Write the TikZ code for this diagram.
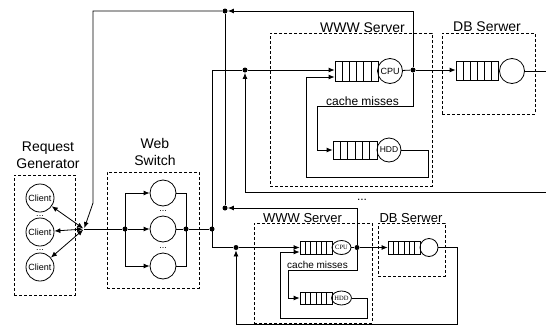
\documentclass[tikz,border=0pt]{standalone}
\usepackage{fontspec}
\setmainfont{Liberation Sans}
\newfontfamily\tms{Liberation Serif}
\usetikzlibrary{arrows.meta,calc,shapes.geometric}
\begin{document}
\begin{tikzpicture}[x=1pt,y=-1pt,
  line width=0.8pt,
  >={Latex[length=6pt,width=5pt]},
  dot/.style={circle,fill,inner sep=0,minimum size=5pt},
  grp/.style={draw,dash pattern=on 3pt off 2pt,line width=0.6pt,inner sep=0},
  lbl/.style={font=\fontsize{14}{16}\selectfont,inner sep=0,anchor=base},
  slbl/.style={font=\fontsize{12}{14}\selectfont,inner sep=0,anchor=base},
  srv/.style={draw,circle,inner sep=0},
  tsrv/.style={draw,ellipse,inner sep=0,minimum width=19pt,minimum height=14pt,font=\tms\fontsize{6.5}{7}\selectfont},
  queue/.style={draw,rectangle,inner sep=0,path picture={
    \foreach \k in {1,...,5}{\draw[line width=0.6pt]
      ($(path picture bounding box.south west)!\k/6!(path picture bounding box.south east)$) --
      ($(path picture bounding box.north west)!\k/6!(path picture bounding box.north east)$);}}}]
\useasboundingbox (0,0) rectangle (546,327);

% group boxes
\node[grp,minimum width=61pt,minimum height=120pt] (RG) at (44.5,235) {};
\node[grp,minimum width=92pt,minimum height=116pt] (WS) at (153,230) {};
\node[grp,minimum width=162pt,minimum height=153pt] (W1) at (351,109.5) {};
\node[grp,minimum width=93pt,minimum height=81pt] (DB1) at (488.5,73.5) {};
\node[grp,minimum width=118pt,minimum height=100pt] (W2) at (313,273) {};
\node[grp,minimum width=67pt,minimum height=53pt] (DB2) at (411.5,249.5) {};

% labels
\node[lbl] (lrg1) at (48,151) {Request};
\node[lbl] (lrg2) at (48,168) {Generator};
\node[lbl] (lws1) at (155,148) {Web};
\node[lbl] (lws2) at (155,165) {Switch};
\node[lbl] (lw1) at (362.5,32) {WWW Server};
\node[lbl] (ldb1) at (487,31) {DB Serwer};
\node[slbl] (lcm1) at (362.5,105) {cache misses};
\node[slbl] (ldots) at (362,200) {...};
\node[lbl,font=\fontsize{13}{15}\selectfont] (lw2) at (302.5,222) {WWW Server};
\node[lbl,font=\fontsize{13}{15}\selectfont] (ldb2) at (411,222) {DB Serwer};
\node[slbl,font=\fontsize{10}{12}\selectfont] (lcm2) at (317.5,268) {cache misses};

% clients
\tikzset{client/.style={srv,minimum size=28pt,font=\fontsize{9}{10}\selectfont}}
\node[client] (c1) at (40,198) {Client};
\node[client] (c2) at (40,232) {Client};
\node[client] (c3) at (40,267) {Client};
\node[inner sep=0,anchor=base,font=\fontsize{9}{10}\selectfont] (cd1) at (40,216) {...};
\node[inner sep=0,anchor=base,font=\fontsize{9}{10}\selectfont] (cd2) at (40,250) {...};
\coordinate (J) at (84,229);

% web switch
\node[srv,minimum size=26pt] (s1) at (163,193) {};
\node[srv,minimum size=26pt] (s2) at (163,229) {};
\node[srv,minimum size=26pt] (s3) at (163,266) {};
\node[inner sep=0,anchor=base,font=\fontsize{9}{10}\selectfont] (sd1) at (163,211) {...};
\node[inner sep=0,anchor=base,font=\fontsize{9}{10}\selectfont] (sd2) at (163,248) {...};
\node[dot] (sp) at (125,229) {};
\node[dot] (mg) at (186,229) {};
\node[dot] (dv) at (212,229) {};
\coordinate (vt) at (212,70);
\coordinate (vb) at (212,247.5);

% top server
\node[dot] (A1) at (245,70) {};
\node[queue,minimum width=43pt,minimum height=20pt] (Q1) at (356.5,71) {};
\node[srv,minimum size=25pt,font=\fontsize{9}{10}\selectfont] (C1) at (390,71) {CPU};
\node[dot] (D1) at (413,70) {};
\node[queue,minimum width=44pt,minimum height=18pt] (H1) at (355,150) {};
\node[srv,minimum size=24pt,font=\fontsize{8.5}{10}\selectfont] (HC1) at (389,150) {HDD};
\node[queue,minimum width=42pt,minimum height=19pt] (DQ1) at (477,71) {};
\node[srv,minimum size=25pt] (DC1) at (512,71) {};
\node[dot] (T) at (225,11) {};
\coordinate (tl) at (93,11);
\coordinate (tlb) at (93,203);
\coordinate (r1) at (546,192);
\coordinate (e1) at (546,71);
\coordinate (m1) at (413,106);
\coordinate (m2) at (317,106);
\coordinate (l1) at (428,177);
\coordinate (l2) at (306,177);

% bottom server
\node[dot] (A2) at (236,247.5) {};
\node[queue,minimum width=32pt,minimum height=13pt] (Q2) at (316,247.5) {};
\node[tsrv] (E2) at (341.5,247.5) {CPU};
\node[dot] (D2) at (357,247.5) {};
\node[queue,minimum width=32pt,minimum height=12pt] (H2) at (316,298) {};
\node[tsrv] (HE2) at (341.5,298) {HDD};
\node[queue,minimum width=32pt,minimum height=13pt] (DQ2) at (404,247.5) {};
\node[srv,minimum size=18pt] (DC2) at (429,247.5) {};
\node[dot] (B) at (225,208) {};
\coordinate (r2a) at (457,247.5);
\coordinate (r2b) at (457,324);
\coordinate (r2c) at (236,324);
\coordinate (m3) at (357,270);
\coordinate (m4) at (288,270);
\coordinate (l3) at (367,318);
\coordinate (l4) at (280,318);

% ---- connectors ----
% generator
\draw[<->,shorten >=1pt] (c1) -- (J);
\draw[<->,shorten >=1pt] (c2) -- (J);
\draw[<->,shorten >=1pt] (c3) -- (J);
\draw[->,shorten >=1pt] (T) -- (tl) -- (tlb) -- (J);
\draw (J) -- (sp);
% switch
\draw (sp|-s1) -- (sp|-s3);
\draw[->] (sp|-s1) -- (s1);
\draw[->] (sp) -- (s2);
\draw[->] (sp|-s3) -- (s3);
\draw (s1) -- (mg|-s1) -- (mg|-s3) -- (s3);
\draw (s2) -- (mg) -- (dv);
\draw (vt) -- (vb);
% top server
\draw (vt) -- (A1);
\draw[->] (A1) -- (A1-|Q1.west);
\draw[->] (r1) -- (r1-|A1) -- (A1);
\draw (C1) -- (D1);
\draw[->] (D1) -- (D1-|DQ1.west);
\draw (DC1) -- (e1);
\draw[->] (D1) -- (D1|-T) -- (T);
\draw (T) -- (B);
\draw[->] (D1) -- (m1) -- (m2) -- (m2|-H1) -- (H1.west);
\draw[->] (HC1) -- (HC1-|l1) -- (l1) -- (l2) -- ($(l2|-Q1.west)+(0,6)$) -- ($(Q1.west)+(0,6)$);
% bottom server
\draw (vb) -- (A2);
\draw[->] (A2) -- (Q2.west);
\draw (E2) -- (D2);
\draw[->] (D2) -- (DQ2.west);
\draw (DC2) -- (r2a) -- (r2b) -- (r2c);
\draw[->] (r2c) -- (A2);
\draw[->] (D2) -- (D2|-B) -- (B);
\draw[->] (D2) -- (m3) -- (m4) -- (m4|-H2) -- (H2.west);
\draw[->] (HE2) -- (HE2-|l3) -- (l3) -- (l4) -- ($(l4|-Q2.west)+(0,4.5)$) -- ($(Q2.west)+(0,4.5)$);
\end{tikzpicture}
\end{document}
